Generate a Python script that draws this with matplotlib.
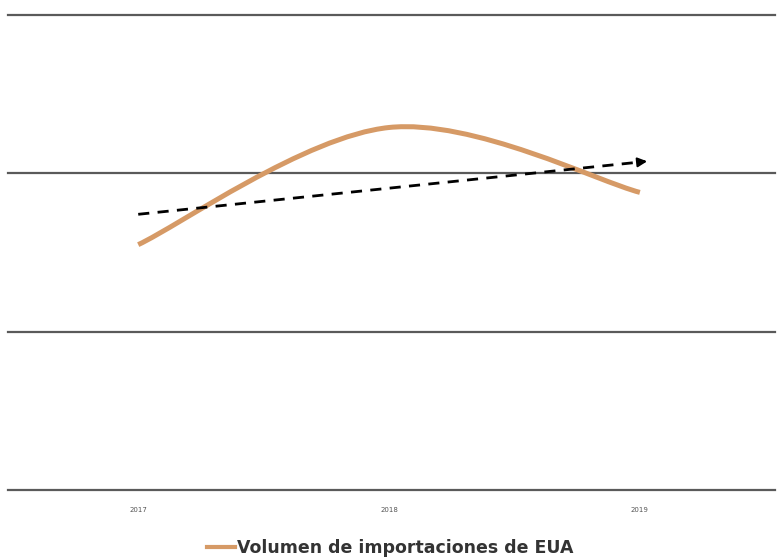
import numpy as np
import matplotlib.pyplot as plt
from matplotlib.path import Path
from matplotlib.patches import PathPatch
from matplotlib.lines import Line2D

years = [2017, 2018, 2019]
year_labels = ["2017", "2018", "2019"]
volumen = [155, 229, 188]
grid_vals = [0, 100, 200, 300]

orange = "#D69A66"

fig = plt.figure(figsize=(7.8, 5.59), dpi=100)
ax = fig.add_axes([0.01, 0.1234, 0.984, 0.8496])
ax.set_xlim(2016.48, 2019.54)
ax.set_ylim(0, 300)

for g in grid_vals:
    ax.axhline(g, color="#5a5a5a", lw=1.6, clip_on=False, zorder=1)

# smoothed line (bezier through the points, like a spreadsheet "smooth line")
x = np.array(years, dtype=float)
y = np.array(volumen, dtype=float)
pts = np.column_stack([x, y])
verts = [pts[0]]
codes = [Path.MOVETO]
for i in range(len(pts) - 1):
    prev = pts[i - 1] if i > 0 else pts[i]
    nxt = pts[i + 2] if i + 2 < len(pts) else pts[i + 1]
    c1 = pts[i] + (pts[i + 1] - prev) / 6
    c2 = pts[i + 1] - (nxt - pts[i]) / 6
    verts += [c1, c2, pts[i + 1]]
    codes += [Path.CURVE4] * 3
ax.add_patch(PathPatch(Path(verts, codes), fill=False, ec=orange, lw=3.6,
                       capstyle="butt", zorder=3))

# linear trend with arrow
m, b = np.polyfit(x, y, 1)
tx = np.array([x[0], x[-1] + 0.02])
ty = m * tx + b
ax.plot(tx, ty, color="black", lw=2, ls=(0, (4, 3)), zorder=4)
ax.annotate("", xy=(tx[1] + 0.02, m * (tx[1] + 0.02) + b),
            xytext=(tx[1] - 0.03, m * (tx[1] - 0.03) + b),
            arrowprops=dict(arrowstyle="-|>", color="black", lw=1.5,
                            mutation_scale=14), zorder=5)

ax.set_xticks(years)
ax.set_xticklabels(year_labels, fontsize=5, color="#555555")
ax.tick_params(axis="x", length=0, pad=12)
ax.set_yticks([])
for s in ax.spines.values():
    s.set_visible(False)

handle = Line2D([], [], color=orange, lw=3)
fig.legend([handle], ["Volumen de importaciones de EUA"], loc="center",
           bbox_to_anchor=(0.5, 0.02), frameon=False, handlelength=1.6,
           handletextpad=0.1,
           prop=dict(family="DejaVu Sans", weight="bold", size=12.5),
           labelcolor="#333333")

fig.savefig("out.png", dpi=100)
